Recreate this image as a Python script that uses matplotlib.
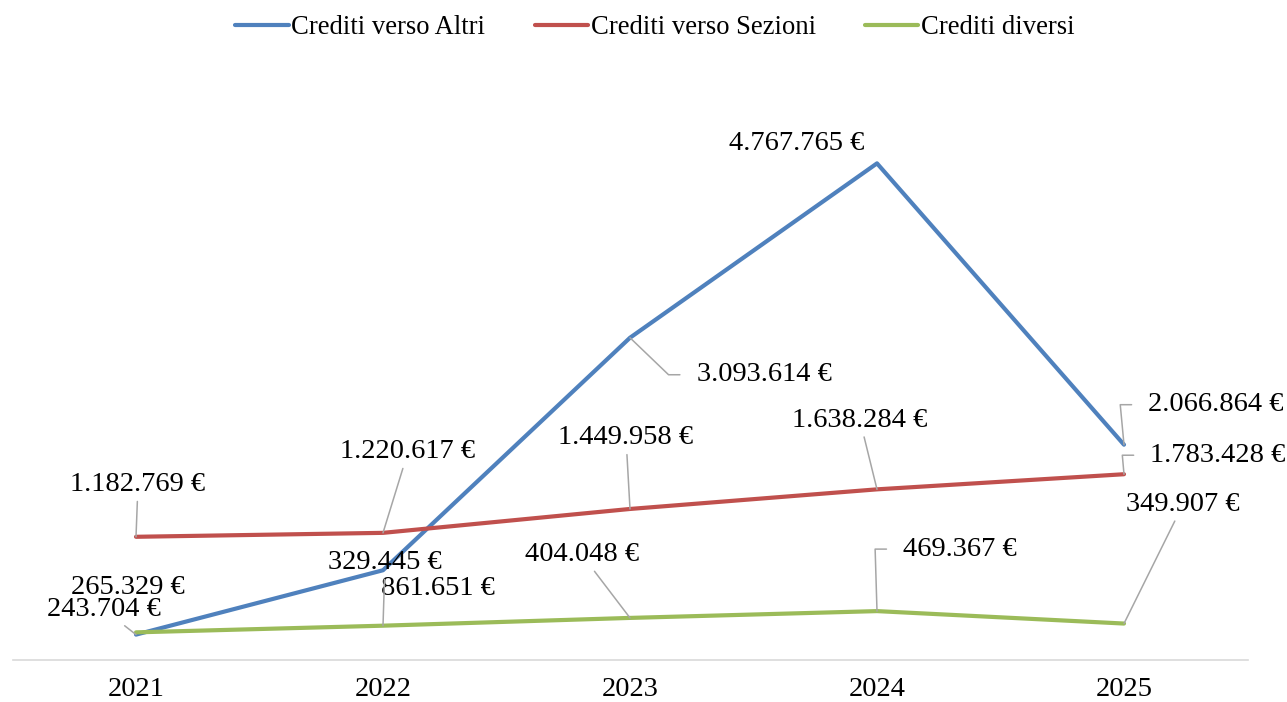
import matplotlib
matplotlib.use("Agg")
import matplotlib.pyplot as plt

plt.rcParams['font.family'] = ['Liberation Serif', 'DejaVu Serif']

years = ['2021', '2022', '2023', '2024', '2025']
altri = [243704, 861651, 3093614, 4767765, 2066864]
sezioni = [1182769, 1220617, 1449958, 1638284, 1783428]
diversi = [265329, 329445, 404048, 469367, 349907]

series = [
    ('Crediti verso Altri', altri, '#4F81BD'),
    ('Crediti verso Sezioni', sezioni, '#C0504D'),
    ('Crediti diversi', diversi, '#9BBB59'),
]

# label offsets in pixels from the point, and leader kind
label_pos = [
    [(-32, 25, 'line'), (55, -18, None), (134, -37, 'arm'), (-80, 20, None), (92, 40, 'arm')],
    [(2, 52, 'line'), (25, 81, 'line'), (-4, 71, 'line'), (-17, 69, 'line'), (94, 19, 'arm')],
    [(-8, 45, None), (2, 63, 'line'), (-48, 63, 'line'), (83, 62, 'arm'), (59, 119, 'line')],
]


def euro(v):
    return '{:,}'.format(v).replace(',', '.') + ' \u20ac'


fig = plt.figure(figsize=(12.87, 7.02), dpi=100)
ax = fig.add_axes([12.5 / 1287, 42 / 702, 1235 / 1287, 625 / 702])

x = list(range(len(years)))
for (name, vals, col), pos in zip(series, label_pos):
    ax.plot(x, vals, color=col, lw=3, label=name, solid_capstyle='round')
    for xi, v, (dx, dy, kind) in zip(x, vals, pos):
        kw = dict(textcoords='offset pixels', ha='center', va='center',
                  fontsize=20.5, color='black')
        if kind == 'line':
            kw['arrowprops'] = dict(arrowstyle='-', color='#A6A6A6', lw=1.1,
                                    shrinkA=1, shrinkB=0)
        elif kind == 'arm':
            kw['arrowprops'] = dict(arrowstyle='-', color='#A6A6A6', lw=1.1,
                                    shrinkA=10, shrinkB=0, relpos=(0, 0.5),
                                    connectionstyle='arc,angleA=180,armA=28,angleB=0,armB=0,rad=0')
        ax.annotate(euro(v), xy=(xi, v), xytext=(dx, dy), **kw)

ax.set_xlim(-0.5, 4.5)
ax.set_ylim(0, 6000000)
ax.set_xticks(x)
ax.set_xticklabels(years, fontsize=20.5)
ax.tick_params(axis='x', length=0, pad=12)
ax.set_yticks([])
for s in ['top', 'right', 'left']:
    ax.spines[s].set_visible(False)
ax.spines['bottom'].set_color('#D9D9D9')
ax.spines['bottom'].set_linewidth(1.2)

fig.legend(loc='center', bbox_to_anchor=(655 / 1287, 1 - 28 / 702), ncol=3,
           frameon=False, fontsize=19.2, handlelength=2.0, handletextpad=0.1,
           columnspacing=1.85, borderaxespad=0)

fig.savefig('out.png', dpi=100)
